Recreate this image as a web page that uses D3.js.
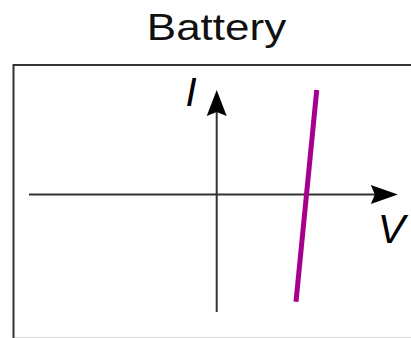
<!DOCTYPE html>
<html><head><meta charset="utf-8">
<script src="https://cdn.jsdelivr.net/npm/d3@7"></script>
<style>html,body{margin:0;padding:0;background:#fff;overflow:hidden}</style>
</head><body>
<svg id="c" width="411" height="338"></svg>
<script>
const title = "Battery";
const axisLabels = {x: "V", y: "I"};
const vExtent = [-1, 0.965];   // horizontal axis from / to (arrow tip)
const iExtent = [-1, 0.889];   // vertical axis from / to (arrow tip)
const batteryV = [0.4225, 0.533];
const batteryI = [-0.912, 0.889];

const svg = d3.select("#c");
const x = d3.scaleLinear().domain([-1, 1]).range([29, 404.4]);
const y = d3.scaleLinear().domain([-1, 1]).range([312, 77]);

svg.append("text").attr("transform", "translate(216.5,39.5) scale(1.19,1)").attr("text-anchor", "middle")
  .attr("font-family", "Liberation Sans, Arial, sans-serif").attr("font-size", 37)
  .attr("fill", "#111").text(title);

svg.append("rect").attr("x", 13.5).attr("y", 65).attr("width", 420).attr("height", 273.8)
  .attr("fill", "none").attr("stroke", "#333").attr("stroke-width", 2);

const axisColor = "#333";
svg.append("line").attr("x1", x(vExtent[0])).attr("x2", x(vExtent[1]) - 12)
  .attr("y1", y(0)).attr("y2", y(0)).attr("stroke", axisColor).attr("stroke-width", 2);
svg.append("line").attr("x1", x(0)).attr("x2", x(0))
  .attr("y1", y(iExtent[0])).attr("y2", y(iExtent[1]) + 12).attr("stroke", axisColor).attr("stroke-width", 2);

const ax = x(vExtent[1]), ay = y(0);
svg.append("path").attr("d", `M${ax},${ay} L${ax-27},${ay-9.5} L${ax-23},${ay} L${ax-27},${ay+9.5} Z`).attr("fill", "#000");
const bx = x(0), by = y(iExtent[1]);
svg.append("path").attr("d", `M${bx},${by} L${bx-10},${by+26} L${bx},${by+22} L${bx+10},${by+26} Z`).attr("fill", "#000");

svg.append("text").attr("x", 191).attr("y", 106).attr("text-anchor", "middle")
  .attr("font-family", "Liberation Sans, Arial, sans-serif").attr("font-style", "italic")
  .attr("font-size", 40).attr("fill", "#000").text(axisLabels.y);
svg.append("text").attr("x", 391.5).attr("y", 242.5).attr("text-anchor", "middle")
  .attr("font-family", "Liberation Sans, Arial, sans-serif").attr("font-style", "italic")
  .attr("font-size", 41).attr("fill", "#000").text(axisLabels.x);

const pts = batteryV.map((v, i) => [v, batteryI[i]]);
svg.append("path").datum(pts)
  .attr("d", d3.line().x(d => x(d[0])).y(d => y(d[1])))
  .attr("fill", "none").attr("stroke", "#a8008c").attr("stroke-width", 5);
</script>
</body></html>
